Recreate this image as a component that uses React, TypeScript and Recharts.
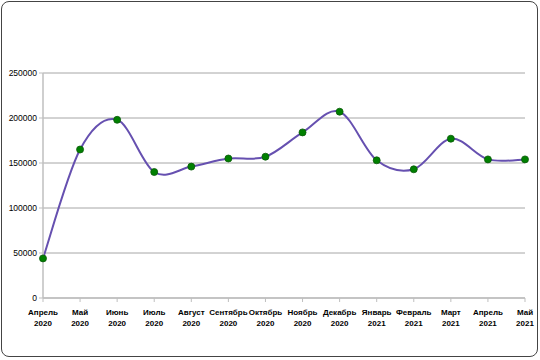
import React from 'react';
import { LineChart, Line, XAxis, YAxis, CartesianGrid } from 'recharts';

const months = ['Апрель', 'Май', 'Июнь', 'Июль', 'Август', 'Сентябрь', 'Октябрь', 'Ноябрь', 'Декабрь', 'Январь', 'Февраль', 'Март', 'Апрель', 'Май'];
const years = ['2020', '2020', '2020', '2020', '2020', '2020', '2020', '2020', '2020', '2021', '2021', '2021', '2021', '2021'];
const values = [44000, 165000, 198000, 140000, 146000, 155000, 157000, 184000, 207000, 153000, 143000, 177000, 154000, 154000];
const yTicks = [0, 50000, 100000, 150000, 200000, 250000];

const data = months.map((m, i) => ({ key: i, month: m, year: years[i], value: values[i] }));

// Excel-style smoothing: Catmull-Rom through each point
const excelCurve = (context: any) => {
  let pts: [number, number][] = [];
  return {
    areaStart() {},
    areaEnd() {},
    lineStart() {
      pts = [];
    },
    point(x: number, y: number) {
      pts.push([+x, +y]);
    },
    lineEnd() {
      if (!pts.length) return;
      context.moveTo(pts[0][0], pts[0][1]);
      for (let i = 0; i < pts.length - 1; i++) {
        const p0 = pts[i - 1] || pts[i];
        const p1 = pts[i];
        const p2 = pts[i + 1];
        const p3 = pts[i + 2] || p2;
        context.bezierCurveTo(
          p1[0] + (p2[0] - p0[0]) / 6,
          p1[1] + (p2[1] - p0[1]) / 6,
          p2[0] - (p3[0] - p1[0]) / 6,
          p2[1] - (p3[1] - p1[1]) / 6,
          p2[0],
          p2[1]
        );
      }
    },
  };
};

const MonthTick = ({ x, y, payload }: any) => {
  const d = data[payload.value];
  return (
    <text x={x} y={y} textAnchor="middle" fontSize={8} fontWeight="bold" fill="#000" fontFamily="'Liberation Sans', Arial, sans-serif">
      <tspan x={x} dy={11}>{d.month}</tspan>
      <tspan x={x} dy={11}>{d.year}</tspan>
    </text>
  );
};

export default function App() {
  return (
    <div style={{ position: 'fixed', left: 0, top: 0, width: 540, height: 360, background: '#fff' }}>
      <div
        style={{
          position: 'absolute',
          left: 1,
          top: 1,
          width: 535,
          height: 354,
          border: '1.5px solid #444',
          borderRadius: 8,
        }}
      />
      <LineChart width={540} height={360} data={data} margin={{ top: 73, right: 15, bottom: 0, left: 0 }}>
        <CartesianGrid vertical={false} stroke="#a6a6a6" />
        <XAxis
          dataKey="key"
          type="category"
          height={62}
          interval={0}
          tick={<MonthTick />}
          tickSize={4}
          tickLine={{ stroke: '#bfbfbf' }}
          axisLine={{ stroke: '#bfbfbf', strokeWidth: 1.5 }}
        />
        <YAxis
          width={43}
          domain={[0, 250000]}
          ticks={yTicks}
          interval={0}
          tickSize={4}
          tick={{ fontSize: 8.5, fill: '#000', fontFamily: "'Liberation Sans', Arial, sans-serif" }}
          tickLine={{ stroke: '#bfbfbf' }}
          axisLine={{ stroke: '#bfbfbf', strokeWidth: 1.5 }}
        />
        <Line
          dataKey="value"
          type={excelCurve as any}
          stroke="#6650b0"
          strokeWidth={2}
          dot={{ r: 3.5, fill: '#008000', stroke: '#0a5a0a', strokeWidth: 0.8 }}
          isAnimationActive={false}
        />
      </LineChart>
    </div>
  );
}
